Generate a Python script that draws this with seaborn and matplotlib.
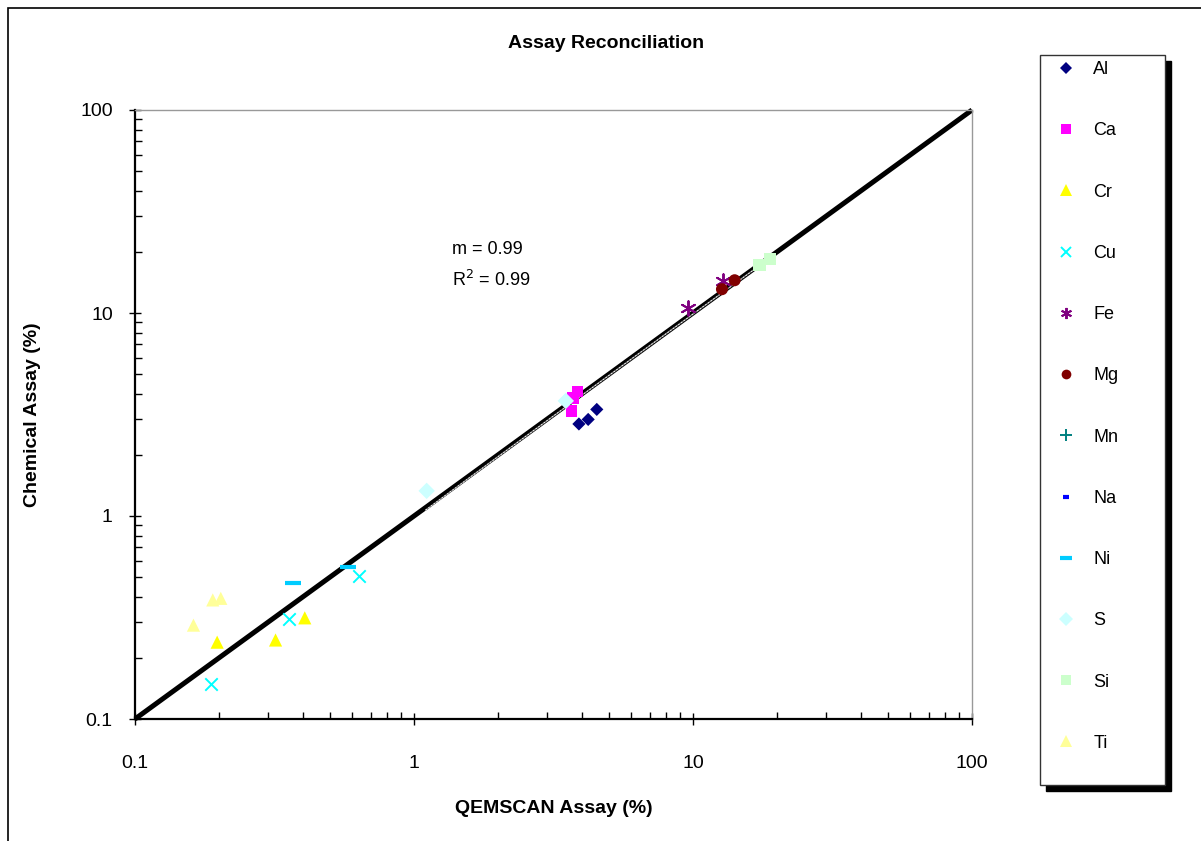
import matplotlib
matplotlib.use("Agg")
import matplotlib.pyplot as plt
from matplotlib.lines import Line2D
from matplotlib.patches import Rectangle
from matplotlib.ticker import LogLocator, FixedFormatter, FixedLocator, NullFormatter
import numpy as np
import pandas as pd
import seaborn as sns

sns.set_style("white")
plt.rcParams["font.family"] = ["Liberation Sans", "DejaVu Sans"]
plt.rcParams.update({"text.color": "black", "axes.labelcolor": "black",
                     "xtick.color": "black", "ytick.color": "black"})

# QEMSCAN vs chemical assay values (%) per element
elements = ["Al", "Ca", "Cr", "Cu", "Fe", "Mg", "Mn", "Na", "Ni", "S", "Si", "Ti"]
al_qem, al_chem = [3.90, 4.21, 4.52], [2.84, 2.99, 3.35]
ca_qem, ca_chem = [3.85, 3.72, 3.67], [4.10, 3.80, 3.30]
cr_qem, cr_chem = [0.197, 0.319, 0.406], [0.239, 0.245, 0.315]
cu_qem, cu_chem = [0.188, 0.356, 0.637], [0.149, 0.310, 0.508]
fe_qem, fe_chem = [9.62, 12.8], [10.55, 14.3]
mg_qem, mg_chem = [12.7, 14.1], [13.1, 14.5]
mn_qem, mn_chem = [], []
na_qem, na_chem = [], []
ni_qem, ni_chem = [0.369, 0.581], [0.468, 0.563]
s_qem, s_chem = [1.11, 3.50], [1.33, 3.69]
si_qem, si_chem = [17.3, 18.9], [17.2, 18.5]
ti_qem, ti_chem = [0.162, 0.190, 0.203], [0.290, 0.386, 0.393]

qem = [al_qem, ca_qem, cr_qem, cu_qem, fe_qem, mg_qem, mn_qem, na_qem, ni_qem, s_qem, si_qem, ti_qem]
chem = [al_chem, ca_chem, cr_chem, cu_chem, fe_chem, mg_chem, mn_chem, na_chem, ni_chem, s_chem, si_chem, ti_chem]

# Linear trendline parameters and the span it is drawn over
slope, intercept, r2 = 0.99, -0.02, 0.99
trend_x = [1.1, 18.9]

colors = ["#000080", "#FF00FF", "#FFFF00", "#00FFFF", "#800080", "#800000",
          "#008080", "#0000FF", "#00CCFF", "#CCFFFF", "#CCFFCC", "#FFFF99"]
markers = ["D", "s", "^", "x", (6, 2, 0), "o", "+", "_", "_", "D", "s", "^"]
sizes = [45, 70, 90, 80, 110, 75, 80, 40, 120, 70, 80, 90]
legend_ms = [6.5, 7, 8, 7.5, 8, 7, 8, 5, 8, 7.5, 7.5, 8.5]

frames = []
for el, xs, ys in zip(elements, qem, chem):
    frames.append(pd.DataFrame({"element": el, "qemscan": xs, "chemical": ys}))
df = pd.concat(frames, ignore_index=True)

fig = plt.figure(figsize=(12.01, 8.41), dpi=100)
ax = fig.add_axes([135 / 1201, 1 - 719 / 841, 837 / 1201, 609 / 841])

# 1:1 reference line
ax.plot([0.1, 100], [0.1, 100], color="black", lw=3.6, solid_capstyle="butt",
        zorder=2, clip_on=False)

# Linear trendline
xt = np.array(trend_x)
xt = np.geomspace(xt[0], xt[1], 50)
ax.plot(xt, slope * xt + intercept, color="#777777", lw=1.0, zorder=3)
ax.plot(xt, slope * xt + intercept, color="white", lw=0.6, ls=(0, (2, 2)), zorder=3)


def edge_width(m):
    if m in ("x", "+", (6, 2, 0)):
        return 1.4
    if m == "_":
        return 3.0
    return 0


for el, c, m, s in zip(elements, colors, markers, sizes):
    sub = df[df["element"] == el]
    if sub.empty:
        continue
    lw = edge_width(m)
    sns.scatterplot(data=sub, x="qemscan", y="chemical", ax=ax, color=c,
                    marker=m, s=s, linewidth=lw, edgecolor=c if lw else "none",
                    zorder=4, legend=False)

ax.set_xscale("log")
ax.set_yscale("log")
ax.set_xlim(0.1, 100)
ax.set_ylim(0.1, 100)

major = [0.1, 1, 10, 100]
labels = ["0.1", "1", "10", "100"]
ax.xaxis.set_major_locator(FixedLocator(major))
ax.xaxis.set_major_formatter(FixedFormatter(labels))
ax.yaxis.set_major_locator(FixedLocator(major))
ax.yaxis.set_major_formatter(FixedFormatter(labels))
ax.xaxis.set_minor_locator(LogLocator(base=10, subs=np.arange(2, 10)))
ax.yaxis.set_minor_locator(LogLocator(base=10, subs=np.arange(2, 10)))
ax.xaxis.set_minor_formatter(NullFormatter())
ax.yaxis.set_minor_formatter(NullFormatter())

ax.tick_params(axis="x", which="major", direction="inout", length=8, width=1,
               pad=22, labelsize=14, bottom=True)
ax.tick_params(axis="x", which="minor", direction="in", length=5, width=1, bottom=True)
ax.tick_params(axis="y", which="major", direction="inout", length=8, width=1,
               pad=12, labelsize=14, left=True)
ax.tick_params(axis="y", which="minor", direction="in", length=5, width=1, left=True)

for side in ("left", "bottom"):
    ax.spines[side].set_color("black")
    ax.spines[side].set_linewidth(1.6)
for side in ("top", "right"):
    ax.spines[side].set_color("#999999")
    ax.spines[side].set_linewidth(1.0)

ax.set_xlabel("QEMSCAN Assay (%)", fontsize=14, fontweight="bold", labelpad=20)
ax.set_ylabel("Chemical Assay (%)", fontsize=14, fontweight="bold", labelpad=28)
fig.text(606 / 1201, 1 - 44 / 841, "Assay Reconciliation", ha="center", va="center",
         fontsize=14, fontweight="bold")

fig.text(452 / 1201, 1 - 250 / 841, f"m = {slope:.2f}", ha="left", va="center",
         fontsize=13)
fig.text(452 / 1201, 1 - 280 / 841, f"R$^2$ = {r2:.2f}", ha="left", va="center",
         fontsize=13)

# Legend box with drop shadow
lx0, lx1, ly0, ly1 = 1040, 1165, 55, 785
fig.patches.append(Rectangle(((lx0 + 6) / 1201, 1 - (ly1 + 6) / 841),
                             (lx1 - lx0) / 1201, (ly1 - ly0) / 841,
                             transform=fig.transFigure, facecolor="black",
                             edgecolor="black", zorder=1))
fig.patches.append(Rectangle((lx0 / 1201, 1 - ly1 / 841),
                             (lx1 - lx0) / 1201, (ly1 - ly0) / 841,
                             transform=fig.transFigure, facecolor="white",
                             edgecolor="#333333", lw=1, zorder=2))
handles = []
for el, c, m, ms in zip(elements, colors, markers, legend_ms):
    lw = edge_width(m)
    handles.append(Line2D([], [], ls="none", marker=m, color=c, markersize=ms,
                          markeredgewidth=lw, markeredgecolor=c))
leg = fig.legend(handles, elements, loc="upper left",
                 bbox_to_anchor=(1048 / 1201, 1 - 54 / 841), frameon=False,
                 fontsize=13, labelspacing=2.45, handletextpad=0.9,
                 borderaxespad=0, handlelength=1.2)
leg.set_zorder(3)

# Chart area border
fig.patches.append(Rectangle((8 / 1201, -0.1), 1.2, 1 - 8 / 841 + 0.1,
                             transform=fig.transFigure, facecolor="none",
                             edgecolor="black", lw=1.2, zorder=0))

fig.savefig("out.png", dpi=100)
